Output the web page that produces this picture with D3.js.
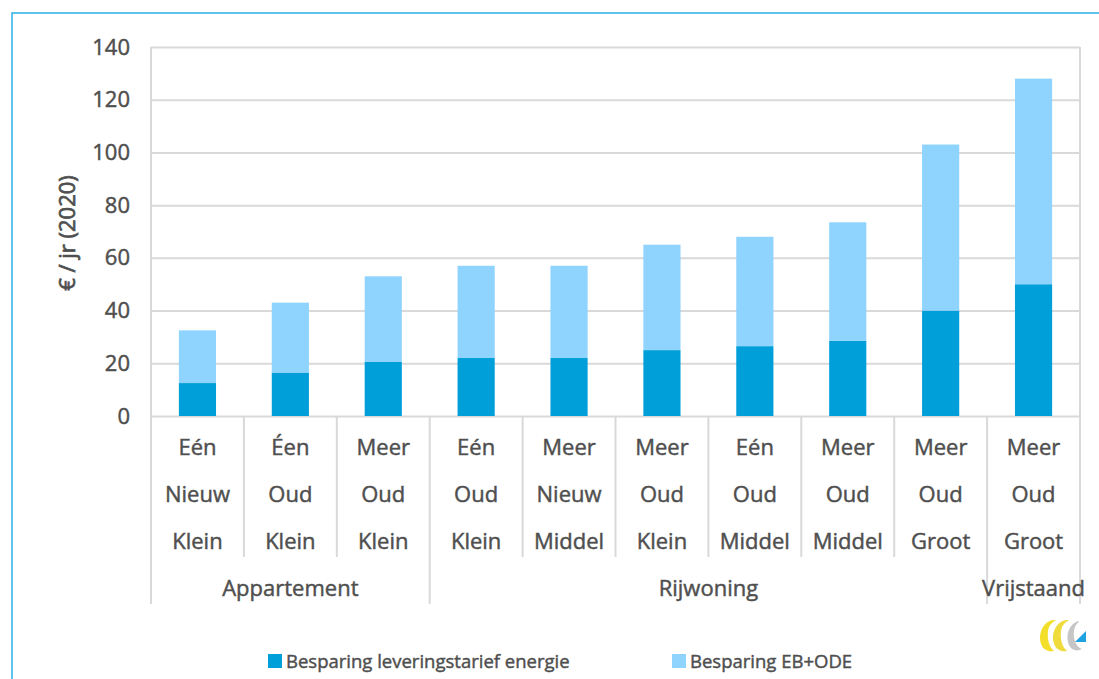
<!DOCTYPE html>
<html>
<head>
<meta charset="utf-8">
<script src="https://cdn.jsdelivr.net/npm/d3@7"></script>
<style>
  html, body { margin: 0; padding: 0; background: #fff; }
  svg { display: block; font-family: "Open Sans", "DejaVu Sans", sans-serif; }
  svg text { stroke: #4f4f4f; stroke-width: 0.45px; }
</style>
</head>
<body>
<svg id="chart" width="1099" height="679"></svg>
<script>
// Woningtypen: gebouwtype / bouwperiode / grootte
const typeRow = ["Eén", "Éen", "Meer", "Eén", "Meer", "Meer", "Eén", "Meer", "Meer", "Meer"];
const periodRow = ["Nieuw", "Oud", "Oud", "Oud", "Nieuw", "Oud", "Oud", "Oud", "Oud", "Oud"];
const sizeRow = ["Klein", "Klein", "Klein", "Klein", "Middel", "Klein", "Middel", "Middel", "Groot", "Groot"];
const groups = [
  { name: "Appartement", start: 0, end: 3 },
  { name: "Rijwoning", start: 3, end: 9 },
  { name: "Vrijstaand", start: 9, end: 10 }
];

// Besparing in € per jaar (2020)
const leveringstarief = [12.5, 16.5, 20.5, 22, 22, 25, 26.5, 28.5, 40, 50];
const ebOde = [20, 26.5, 32.5, 35, 35, 40, 41.5, 45, 63, 78];

const yTicks = [0, 20, 40, 60, 80, 100, 120, 140];
const seriesNames = ["Besparing leveringstarief energie", "Besparing EB+ODE"];
const seriesColors = ["#009fda", "#8fd3ff"];

const svg = d3.select("#chart");
const textColor = "#4f4f4f";
const gridColor = "#d9d9d9";

const plotLeft = 151, plotRight = 1080, plotTop = 47, plotBottom = 416;

const idx = d3.range(typeRow.length);
const x = d3.scaleBand().domain(idx).range([plotLeft, plotRight]).paddingInner(0.6).paddingOuter(0.3);
const y = d3.scaleLinear().domain([0, 140]).range([plotBottom, plotTop]);
const step = x.step();

// Frame of the slide
svg.append("path")
  .attr("d", "M12,679 V13 H1099")
  .attr("fill", "none")
  .attr("stroke", "#2aaee4")
  .attr("stroke-width", 1.5);

// Horizontal gridlines
const yAxis = d3.axisLeft(y).tickValues(yTicks).tickSize(-(plotRight - plotLeft)).tickPadding(21);
const gy = svg.append("g").attr("transform", `translate(${plotLeft},0)`).call(yAxis);
gy.select(".domain").remove();
gy.selectAll(".tick line").attr("stroke", gridColor).attr("stroke-width", 2);
gy.selectAll(".tick text")
  .attr("fill", textColor)
  .attr("font-size", 22)
  .attr("font-family", "'Open Sans', sans-serif");

// Plot frame verticals, extending down through the category area
const groupEdges = [0, 3, 9, 10];
svg.append("g").selectAll("line")
  .data(groupEdges)
  .join("line")
  .attr("x1", d => plotLeft + d * step)
  .attr("x2", d => plotLeft + d * step)
  .attr("y1", d => (d === 0 || d === 10) ? plotTop : plotBottom)
  .attr("y2", 604)
  .attr("stroke", gridColor)
  .attr("stroke-width", 2);

// Category separators
svg.append("g").selectAll("line")
  .data(idx.slice(1).filter(i => !groupEdges.includes(i)))
  .join("line")
  .attr("x1", d => plotLeft + d * step)
  .attr("x2", d => plotLeft + d * step)
  .attr("y1", plotBottom)
  .attr("y2", 557)
  .attr("stroke", gridColor)
  .attr("stroke-width", 2);

// Stacked bars
const rows = idx.map(i => ({ i, a: leveringstarief[i], b: ebOde[i] }));
const stack = d3.stack().keys(["a", "b"])(rows);
svg.append("g").selectAll("g")
  .data(stack)
  .join("g")
  .attr("fill", (d, k) => seriesColors[k])
  .selectAll("rect")
  .data(d => d)
  .join("rect")
  .attr("x", d => x(d.data.i))
  .attr("width", x.bandwidth())
  .attr("y", d => y(d[1]))
  .attr("height", d => y(d[0]) - y(d[1]));

// Category labels (three lines)
const catLines = [typeRow, periodRow, sizeRow];
const catG = svg.append("g")
  .attr("fill", textColor)
  .attr("font-size", 22)
  .attr("text-anchor", "middle");
catLines.forEach((row, r) => {
  catG.selectAll(null)
    .data(idx)
    .join("text")
    .attr("x", i => x(i) + x.bandwidth() / 2)
    .attr("y", 455 + r * 47)
    .text(i => row[i]);
});

// Group labels
svg.append("g")
  .attr("fill", textColor)
  .attr("font-size", 22)
  .attr("text-anchor", "middle")
  .selectAll("text")
  .data(groups)
  .join("text")
  .attr("x", g => plotLeft + (g.start + g.end) / 2 * step)
  .attr("y", 596)
  .text(g => g.name);

// Y axis title
svg.append("text")
  .attr("transform", "translate(75,233) rotate(-90)")
  .attr("text-anchor", "middle")
  .attr("fill", textColor)
  .attr("font-size", 22)
  .style("stroke-width", "0.7px")
  .text("€ / jr (2020)");

// Legend
const legendX = [268, 672];
const lg = svg.append("g").selectAll("g")
  .data(seriesNames)
  .join("g")
  .attr("transform", (d, k) => `translate(${legendX[k]},661)`);
lg.append("rect")
  .attr("x", 0).attr("y", -7)
  .attr("width", 14).attr("height", 14)
  .attr("fill", (d, k) => seriesColors[k]);
lg.append("text")
  .attr("x", 18).attr("y", 7)
  .attr("fill", textColor)
  .attr("font-size", 18.5)
  .text(d => d);

// Logo
const logo = svg.append("g").attr("transform", "translate(1038,618)");
logo.append("path")
  .attr("d", "M15,2 C4,4 -1,18 4,28 C6,32 11,34 16,33 C11,29 9,21 10,13 C11,8 13,5 18,2 Z")
  .attr("fill", "#f3df2a");
logo.append("path")
  .attr("d", "M28,2 C17,4 12,18 17,28 C19,32 24,34 29,33 C24,29 22,21 23,13 C24,8 26,5 31,2 Z")
  .attr("fill", "#efdb3c");
logo.append("path")
  .attr("d", "M40,3 C31,6 27,18 31,27 C33,32 39,34 44,31 C38,29 35,21 36,13 C37,8 38,6 41,4 Z")
  .attr("fill", "#c6c6c6");
logo.append("path")
  .attr("d", "M37,24 L48,13 L48,24 Z")
  .attr("fill", "#1ea3e0");
</script>
</body>
</html>
